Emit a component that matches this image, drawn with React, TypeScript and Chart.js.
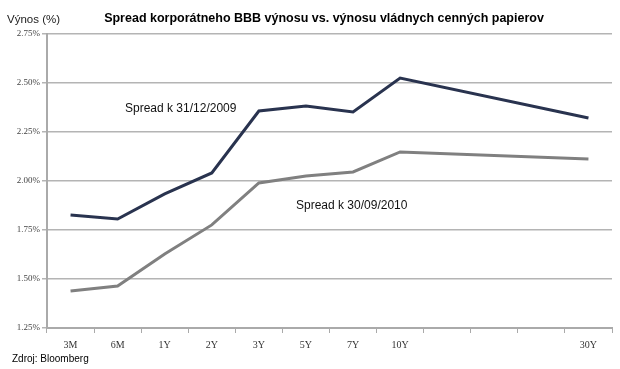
import React, { useEffect, useRef } from "react";
import { Chart, registerables } from "chart.js";

Chart.register(...registerables);

const categories = ["3M", "6M", "1Y", "2Y", "3Y", "5Y", "7Y", "10Y", "", "", "", "30Y"];
const spread2009 = [1.827, 1.806, 1.934, 2.041, 2.357, 2.383, 2.352, 2.525, null, null, null, 2.321];
const spread2010 = [1.439, 1.464, 1.628, 1.776, 1.99, 2.026, 2.046, 2.148, null, null, null, 2.112];
const yTicks = [1.25, 1.5, 1.75, 2.0, 2.25, 2.5, 2.75];
const title = "Spread korporátneho BBB výnosu vs. výnosu vládnych cenných papierov";
const yTitle = "Výnos (%)";
const source = "Zdroj: Bloomberg";
const label2009 = "Spread k 31/12/2009";
const label2010 = "Spread k 30/09/2010";

function fitFont(ctx: any, text: string, weight: string, family: string, size: number, maxW: number) {
  let s = size;
  ctx.font = `${weight} ${s}px ${family}`;
  while (ctx.measureText(text).width > maxW && s > 8) {
    s -= 0.5;
    ctx.font = `${weight} ${s}px ${family}`;
  }
}

const textPlugin = {
  id: "texts",
  afterDraw(chart: any) {
    const ctx = chart.ctx;
    ctx.save();
    ctx.fillStyle = "#000";
    ctx.textBaseline = "alphabetic";
    fitFont(ctx, title, "bold", "'Liberation Sans Narrow', 'Arial Narrow', 'Liberation Sans', sans-serif", 15, 455);
    ctx.textAlign = "center";
    ctx.fillText(title, 324, 22);
    ctx.textAlign = "left";
    fitFont(ctx, yTitle, "normal", "'Liberation Sans Narrow', 'Arial Narrow', 'Liberation Sans', sans-serif", 13, 54);
    ctx.fillStyle = "#222";
    ctx.fillText(yTitle, 7, 23);
    ctx.font = "10px 'Liberation Sans', Arial, sans-serif";
    ctx.fillStyle = "#000";
    ctx.fillText(source, 12, 362);
    ctx.font = "12px 'Liberation Sans', Arial, sans-serif";
    ctx.fillStyle = "#111";
    ctx.fillText(label2009, 125, 112);
    ctx.fillText(label2010, 296, 209);
    ctx.restore();
  },
};

export default function App() {
  const ref = useRef<HTMLCanvasElement>(null);
  useEffect(() => {
    if (!ref.current) return;
    const chart = new Chart(ref.current, {
      type: "line",
      data: {
        labels: categories,
        datasets: [
          {
            label: label2009,
            data: spread2009,
            borderColor: "#29334f",
            borderWidth: 3,
            pointRadius: 0,
            spanGaps: true,
            tension: 0,
          },
          {
            label: label2010,
            data: spread2010,
            borderColor: "#808080",
            borderWidth: 3,
            pointRadius: 0,
            spanGaps: true,
            tension: 0,
          },
        ],
      },
      options: {
        animation: false,
        responsive: false,
        layout: { padding: { top: 34, right: 8, left: 0, bottom: 0 } },
        plugins: { legend: { display: false }, tooltip: { enabled: false }, title: { display: false } },
        scales: {
          x: {
            type: "category",
            offset: true,
            grid: {
              offset: true,
              drawOnChartArea: false,
              drawTicks: true,
              tickLength: 5,
              color: "#aaaaaa",
              lineWidth: 1,
            },
            border: { color: "#aaaaaa", width: 2 },
            ticks: {
              autoSkip: false,
              maxRotation: 0,
              color: "#333",
              font: { family: "'Liberation Serif', 'Times New Roman', serif", size: 10 },
              padding: 6,
            },
            afterFit(scale: any) {
              scale.height = 41;
            },
          },
          y: {
            min: 1.25,
            max: 2.75,
            afterBuildTicks(scale: any) {
              scale.ticks = yTicks.map((v) => ({ value: v }));
            },
            grid: { color: "#b4b4b4", lineWidth: 1.5, tickLength: 5 },
            border: { color: "#aaaaaa", width: 2 },
            ticks: {
              color: "#444",
              font: { family: "'Liberation Serif', 'Times New Roman', serif", size: 9 },
              padding: 2,
              callback: (v: any) => Number(v).toFixed(2) + "%",
            },
            afterFit(scale: any) {
              scale.width = 47;
            },
          },
        },
      },
      plugins: [textPlugin],
    });
    return () => chart.destroy();
  }, []);
  return (
    <div style={{ position: "absolute", left: 0, top: 0, width: 620, height: 369, background: "#fff" }}>
      <canvas ref={ref} width={620} height={369} />
    </div>
  );
}
